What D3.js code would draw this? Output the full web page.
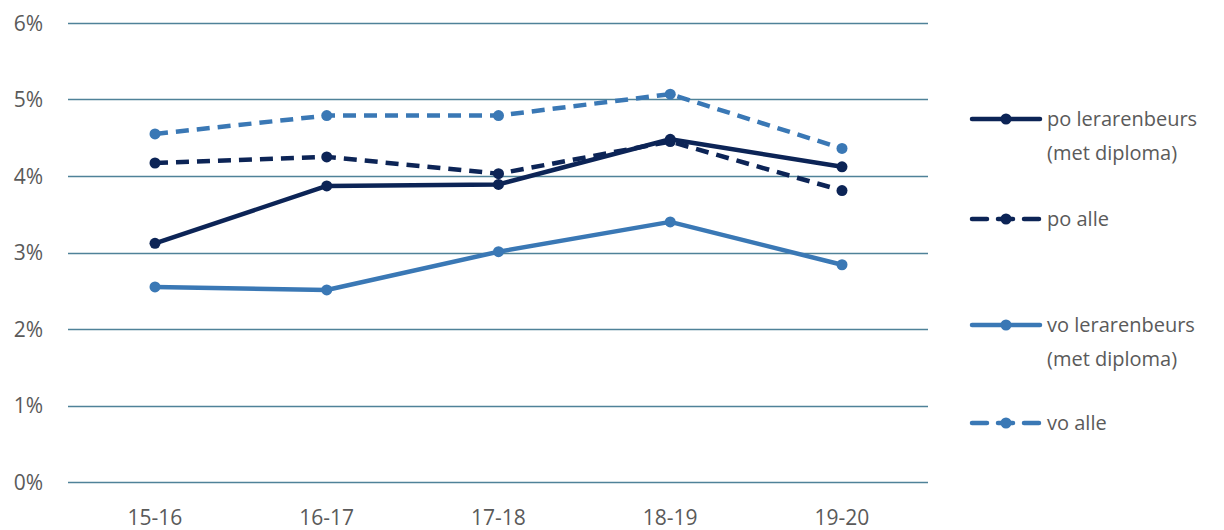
<!DOCTYPE html>
<html><head><meta charset="utf-8">
<script src="https://cdn.jsdelivr.net/npm/d3@7"></script>
<style>body{margin:0;background:#fff}svg{display:block}text{font-family:"Open Sans","Noto Sans",sans-serif;fill:#5a5a5a}</style>
</head><body><svg id="c" width="1224" height="530"></svg>
<script>
const categories = ["15-16","16-17","17-18","18-19","19-20"];
const poLerarenbeurs = [3.12, 3.87, 3.89, 4.48, 4.12];
const poAlle = [4.17, 4.25, 4.03, 4.45, 3.81];
const voLerarenbeurs = [2.55, 2.51, 3.01, 3.40, 2.84];
const voAlle = [4.55, 4.79, 4.79, 5.07, 4.36];
const yTicks = [0,1,2,3,4,5,6];
const seriesNames = [["po lerarenbeurs","(met diploma)"],["po alle"],["vo lerarenbeurs","(met diploma)"],["vo alle"]];

const dark = "#0c2456", mid = "#3a78b5";
const series = [
  {name: seriesNames[0], values: poLerarenbeurs, color: dark, dash: null, ly: 119},
  {name: seriesNames[1], values: poAlle, color: dark, dash: "13,8", ly: 219},
  {name: seriesNames[2], values: voLerarenbeurs, color: mid, dash: null, ly: 325},
  {name: seriesNames[3], values: voAlle, color: mid, dash: "13,8", ly: 423}
];
const svg = d3.select("#c");
const x = d3.scalePoint().domain(categories).range([155, 842]);
const y = d3.scaleLinear().domain([0,6]).range([482, 23]);

const grid = svg.append("g");
grid.selectAll("line").data(yTicks).join("line")
  .attr("x1", 68).attr("x2", 928)
  .attr("y1", d => Math.round(y(d)) + 0.5).attr("y2", d => Math.round(y(d)) + 0.5)
  .attr("stroke", "#4f8299").attr("stroke-width", 1.3);
grid.selectAll("text").data(yTicks).join("text")
  .attr("x", 43).attr("y", d => y(d)).attr("dy", "0.36em")
  .attr("text-anchor", "end").attr("font-size", 21).text(d => d + "%");

svg.append("g").selectAll("text").data(categories).join("text")
  .attr("x", d => x(d)).attr("y", 525).attr("text-anchor", "middle")
  .attr("font-size", 21).text(d => d);

const line = d3.line().x((d,i) => x(categories[i])).y(d => y(d));
const order = [2,3,1,0];
order.forEach(k => {
  const s = series[k];
  const g = svg.append("g");
  g.append("path").attr("d", line(s.values)).attr("fill", "none")
    .attr("stroke", s.color).attr("stroke-width", 4.5)
    .attr("stroke-linejoin", "round").attr("stroke-linecap", s.dash ? "butt" : "round")
    .attr("stroke-dasharray", s.dash);
  g.selectAll("circle").data(s.values).join("circle")
    .attr("cx", (d,i) => x(categories[i])).attr("cy", d => y(d)).attr("r", 5.5)
    .attr("fill", s.color);
});

const leg = svg.append("g");
series.forEach(s => {
  const g = leg.append("g");
  g.append("line").attr("x1", 972).attr("x2", 1040).attr("y1", s.ly).attr("y2", s.ly)
    .attr("stroke", s.color).attr("stroke-width", 4.5)
    .attr("stroke-linecap", "round")
    .attr("stroke-dasharray", s.dash ? "15,11" : null);
  g.append("circle").attr("cx", 1006).attr("cy", s.ly).attr("r", 5.5).attr("fill", s.color);
  s.name.forEach((t, j) => {
    g.append("text").attr("x", 1047).attr("y", s.ly + j*34).attr("dy", "0.36em")
      .attr("font-size", 20).text(t);
  });
});
</script></body></html>
